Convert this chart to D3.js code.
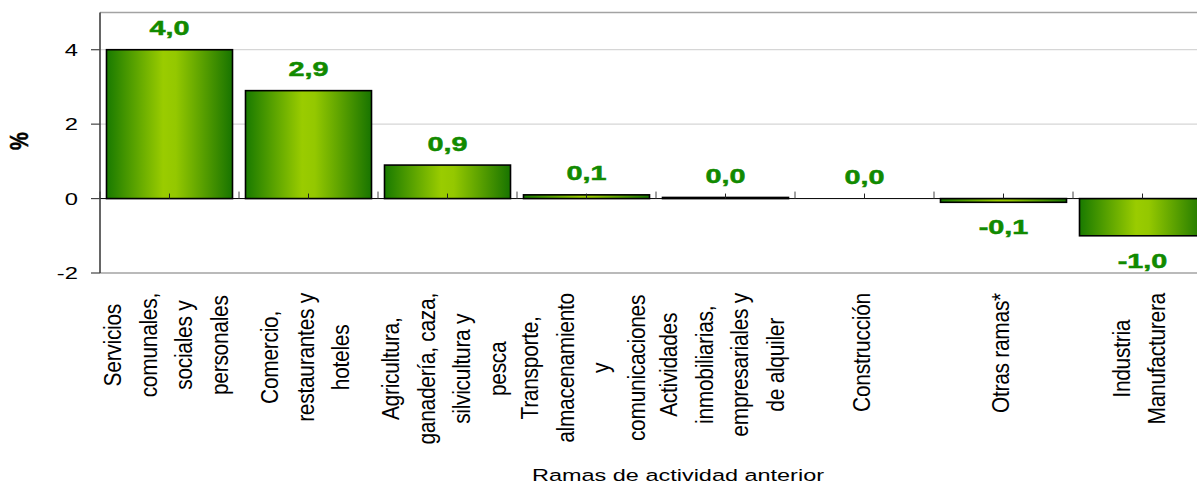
<!DOCTYPE html>
<html>
<head>
<meta charset="utf-8">
<script src="https://cdn.jsdelivr.net/npm/d3@7"></script>
<style>
  html, body { margin: 0; padding: 0; background: #ffffff; }
  svg { display: block; }
  text { font-family: "Liberation Sans", Arial, sans-serif; }
</style>
</head>
<body>
<svg id="chart" width="1197" height="484"></svg>
<script>
// ---- data ----
const categoryLines = [
  ["Servicios", "comunales,", "sociales y", "personales"],
  ["Comercio,", "restaurantes y", "hoteles"],
  ["Agricultura,", "ganadería, caza,", "silvicultura y", "pesca"],
  ["Transporte,", "almacenamiento", "y", "comunicaciones"],
  ["Actividades", "inmobiliarias,", "empresariales y", "de alquiler"],
  ["Construcción"],
  ["Otras ramas*"],
  ["Industria", "Manufacturera"]
];
const values = [4.0, 2.9, 0.9, 0.1, 0.03, 0.0, -0.1, -1.0];
const yTicks = [-2, 0, 2, 4];
const yDomain = [-2, 5];
const yTitle = "%";
const xTitle = "Ramas de actividad anterior";

// ---- layout ----
const svg = d3.select("#chart");
const W = 1197, H = 484;
const plotLeft = 100, plotRight = 1212, plotTop = 12.5, plotBottom = 273;
const S = 1.44; // horizontal stretch of horizontal text

const x = d3.scaleBand()
  .domain(d3.range(values.length))
  .range([plotLeft, plotRight])
  .paddingInner(0.0935)
  .paddingOuter(0.04675);
const y = d3.scaleLinear().domain(yDomain).range([plotBottom, plotTop]);

const fmt = v => d3.format(".1f")(v).replace(".", ",").replace("\u2212", "-");

// gradient
const defs = svg.append("defs");
const grad = defs.append("linearGradient").attr("id", "barGrad")
  .attr("x1", "0").attr("x2", "1").attr("y1", "0").attr("y2", "0");
grad.append("stop").attr("offset", "0").attr("stop-color", "#197a00");
grad.append("stop").attr("offset", "0.45").attr("stop-color", "#9acc00");
grad.append("stop").attr("offset", "0.55").attr("stop-color", "#94c800");
grad.append("stop").attr("offset", "1").attr("stop-color", "#187400");

// gridlines at 2 and 4
svg.append("g").selectAll("line")
  .data(yTicks.filter(t => t > 0))
  .join("line")
  .attr("x1", plotLeft).attr("x2", W)
  .attr("y1", d => y(d)).attr("y2", d => y(d))
  .attr("stroke", "#d6d6d6").attr("stroke-width", 1.2);

// top border and bottom border
svg.append("line").attr("x1", plotLeft).attr("x2", W)
  .attr("y1", y(yDomain[1])).attr("y2", y(yDomain[1]))
  .attr("stroke", "#a3a3a3").attr("stroke-width", 1.5);
svg.append("line").attr("x1", plotLeft).attr("x2", W)
  .attr("y1", y(yDomain[0])).attr("y2", y(yDomain[0]))
  .attr("stroke", "#a3a3a3").attr("stroke-width", 1.5);

// bars
svg.append("g").selectAll("rect")
  .data(values)
  .join("rect")
  .attr("x", (d, i) => x(i))
  .attr("width", x.bandwidth())
  .attr("y", d => y(Math.max(0, d)))
  .attr("height", d => Math.abs(y(d) - y(0)))
  .attr("fill", "url(#barGrad)")
  .attr("stroke", "#000")
  .attr("stroke-width", 1.6);

// zero line
svg.append("line").attr("x1", plotLeft).attr("x2", W)
  .attr("y1", y(0)).attr("y2", y(0))
  .attr("stroke", "#000").attr("stroke-width", 1);

// x ticks: band edges and band centres (upwards from zero line)
const edges = d3.range(values.length + 1).map(i => plotLeft + i * x.step());
svg.append("g").selectAll("line")
  .data(edges)
  .join("line")
  .attr("x1", d => d).attr("x2", d => d)
  .attr("y1", y(0) - 7).attr("y2", y(0))
  .attr("stroke", "#444").attr("stroke-width", 1);
svg.append("g").selectAll("line")
  .data(values)
  .join("line")
  .attr("x1", (d, i) => x(i) + x.bandwidth() / 2)
  .attr("x2", (d, i) => x(i) + x.bandwidth() / 2)
  .attr("y1", y(0) - 5).attr("y2", y(0))
  .attr("stroke", "#222").attr("stroke-width", 1);

// y axis line + ticks
svg.append("line").attr("x1", plotLeft).attr("x2", plotLeft)
  .attr("y1", y(yDomain[1])).attr("y2", y(yDomain[0]))
  .attr("stroke", "#333").attr("stroke-width", 1.5);
svg.append("g").selectAll("line")
  .data(yTicks)
  .join("line")
  .attr("x1", plotLeft - 9).attr("x2", plotLeft)
  .attr("y1", d => y(d)).attr("y2", d => y(d))
  .attr("stroke", "#444").attr("stroke-width", 1.2);
svg.append("g").selectAll("text")
  .data(yTicks)
  .join("text")
  .attr("transform", d => `translate(78,${y(d) + 6}) scale(${S},1)`)
  .attr("text-anchor", "end")
  .attr("font-size", 16.5)
  .attr("fill", "#000")
  .text(d => d);

// y title
svg.append("text")
  .attr("transform", "translate(20,141) scale(1.25,1) rotate(-90)")
  .attr("text-anchor", "middle")
  .attr("dominant-baseline", "central")
  .attr("font-size", 20)
  .attr("font-weight", "bold")
  .attr("stroke", "#000").attr("stroke-width", 0.4)
  .text(yTitle);

// value labels
svg.append("g").selectAll("text")
  .data(values)
  .join("text")
  .attr("transform", (d, i) => {
    const cx = x(i) + x.bandwidth() / 2;
    const ty = d >= 0 ? y(d) - 14.5 : y(d) + 32;
    return `translate(${cx},${ty}) scale(${S},1)`;
  })
  .attr("text-anchor", "middle")
  .attr("font-size", 20)
  .attr("font-weight", "bold")
  .attr("fill", "#118a00")
  .attr("stroke", "#118a00").attr("stroke-width", 0.5)
  .text(d => fmt(d));

// category labels (rotated, multi-line)
const lineGap = 35.5;
const labelTop = 293;
const catG = svg.append("g");
categoryLines.forEach((lines, i) => {
  const cx = x(i) + x.bandwidth() / 2;
  const n = lines.length;
  const g = catG.append("g");
  const texts = g.selectAll("text")
    .data(lines)
    .join("text")
    .attr("text-anchor", "middle")
    .attr("dominant-baseline", "central")
    .attr("font-size", 21)
    .attr("letter-spacing", -0.3)
    .attr("fill", "#000")
    .text(d => d);
  let maxLen = 0;
  texts.each(function () { maxLen = Math.max(maxLen, this.getComputedTextLength()); });
  const cy = labelTop + maxLen / 2;
  texts.attr("transform", (d, j) => {
    const lx = cx + (j - (n - 1) / 2) * lineGap - 3;
    return `translate(${lx},${cy}) scale(1.15,1) rotate(-90)`;
  });
});

// x title
svg.append("text")
  .attr("transform", `translate(678,480.5) scale(${S},1)`)
  .attr("text-anchor", "middle")
  .attr("font-size", 16.3)
  .attr("fill", "#000")
  .text(xTitle);
</script>
</body>
</html>
